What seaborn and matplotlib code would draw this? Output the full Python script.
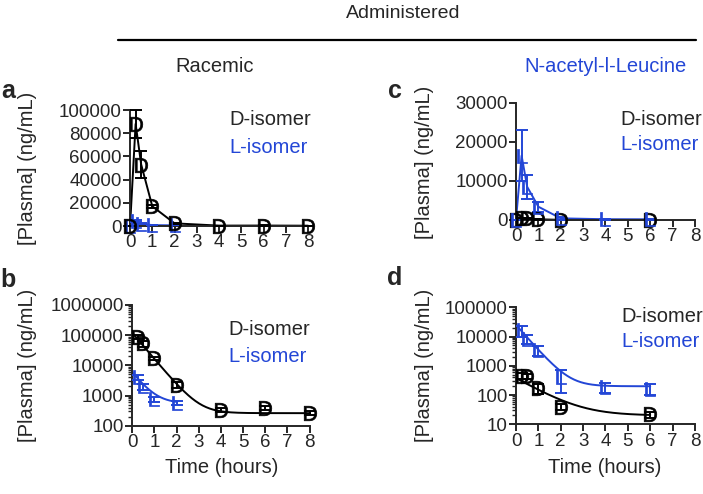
import numpy as np
import matplotlib
matplotlib.use('Agg')
import matplotlib.pyplot as plt
import seaborn as sns
from matplotlib.lines import Line2D
from matplotlib.ticker import FixedLocator, LogLocator, NullFormatter, FuncFormatter

sns.set_style('ticks')
plt.rcParams['font.family'] = ['Liberation Sans', 'DejaVu Sans']
plt.rcParams['mathtext.fontset'] = 'custom'
plt.rcParams['mathtext.sf'] = 'Liberation Sans'
plt.rcParams['mathtext.rm'] = 'Liberation Sans'

BLUE = '#2346d6'

# racemic dose: D- and L-isomer plasma levels (mean, sd)
time_rac_d = [0, 0.25, 0.5, 1, 2, 4, 6, 8]
rac_d_mean = [0, 88000, 53000, 17000, 2300, 340, 400, 270]
rac_d_sd = [0, 12000, 12000, 1500, 500, 60, 60, 40]
time_rac_l = [0, 0.25, 0.5, 1, 2]
rac_l_mean = [0, 4100, 2000, 750, 570]
rac_l_sd = [0, 800, 500, 150, 100]

# N-acetyl-L-leucine dose
time_nal_d = [0, 0.25, 0.5, 1, 2, 6]
nal_d_mean = [0, 450, 440, 170, 40, 22]
nal_d_sd = [0, 100, 80, 60, 10, 5]
time_nal_l = [0, 0.25, 0.5, 1, 2, 4, 6]
nal_l_mean = [0, 16500, 8500, 3400, 420, 190, 165]
nal_l_sd = [0, 6500, 3000, 1300, 300, 70, 65]

# one-phase decay fits shown on the log panels: (y0, k, plateau, t_end)
fit_rac_d = (120000, 2.0, 260, 8)
fit_rac_l = (6000, 2.2, 550, 2)
fit_nal_d = (380, 1.0, 20, 6)
fit_nal_l = (25000, 2.0, 200, 6)

x_ticks = [0, 1, 2, 3, 4, 5, 6, 7, 8]

fig = plt.figure(figsize=(7.03, 4.94), dpi=100)
ax_a = fig.add_axes([0.185, 0.5425, 0.2532, 0.2348])
ax_b = fig.add_axes([0.188, 0.1383, 0.2523, 0.2443])
ax_c = fig.add_axes([0.734, 0.5547, 0.2546, 0.2368])
ax_d = fig.add_axes([0.734, 0.1411, 0.2546, 0.2368])


def points(ax, t, mean, sd, letter, color):
    ax.errorbar(t, mean, yerr=sd, fmt='none', ecolor=color, elinewidth=1.4,
                capsize=4, capthick=1.4, clip_on=False, zorder=3)
    sns.scatterplot(x=t, y=mean, ax=ax, marker=r'$\mathsf{%s}$' % letter, s=110,
                    color=color, edgecolor=color, linewidth=0.5, clip_on=False, zorder=4)


def fit_curve(ax, fit, color):
    y0, k, plateau, t_end = fit
    tt = np.linspace(0, t_end, 200)
    sns.lineplot(x=tt, y=plateau + (y0 - plateau) * np.exp(-k * tt), ax=ax,
                 color=color, lw=1.4, clip_on=False)


# linear panels: points joined by straight lines
sns.lineplot(x=time_rac_l, y=rac_l_mean, ax=ax_a, color=BLUE, lw=1.4, clip_on=False)
sns.lineplot(x=time_rac_d, y=rac_d_mean, ax=ax_a, color='black', lw=1.4, clip_on=False)
points(ax_a, time_rac_l, rac_l_mean, rac_l_sd, 'L', BLUE)
points(ax_a, time_rac_d, rac_d_mean, rac_d_sd, 'D', 'black')

sns.lineplot(x=time_nal_d, y=nal_d_mean, ax=ax_c, color='black', lw=1.4, clip_on=False)
sns.lineplot(x=time_nal_l, y=nal_l_mean, ax=ax_c, color=BLUE, lw=1.4, clip_on=False)
points(ax_c, time_nal_d, nal_d_mean, nal_d_sd, 'D', 'black')
points(ax_c, time_nal_l, nal_l_mean, nal_l_sd, 'L', BLUE)

# log panels: fitted curves
fit_curve(ax_b, fit_rac_d, 'black')
fit_curve(ax_b, fit_rac_l, BLUE)
points(ax_b, time_rac_d[1:], rac_d_mean[1:], rac_d_sd[1:], 'D', 'black')
points(ax_b, time_rac_l[1:], rac_l_mean[1:], rac_l_sd[1:], 'L', BLUE)

fit_curve(ax_d, fit_nal_l, BLUE)
fit_curve(ax_d, fit_nal_d, 'black')
points(ax_d, time_nal_d[1:], nal_d_mean[1:], nal_d_sd[1:], 'D', 'black')
points(ax_d, time_nal_l[1:], nal_l_mean[1:], nal_l_sd[1:], 'L', BLUE)

ax_a.set_ylim(0, 100000)
ax_a.set_yticks([0, 20000, 40000, 60000, 80000, 100000])
ax_c.set_ylim(0, 30000)
ax_c.set_yticks([0, 10000, 20000, 30000])

ax_b.set_yscale('log')
ax_b.set_ylim(100, 1000000)
ax_b.yaxis.set_major_locator(FixedLocator([100, 1000, 10000, 100000, 1000000]))
ax_d.set_yscale('log')
ax_d.set_ylim(10, 100000)
ax_d.yaxis.set_major_locator(FixedLocator([10, 100, 1000, 10000, 100000]))
for ax in (ax_b, ax_d):
    ax.yaxis.set_minor_locator(LogLocator(base=10, subs=np.arange(2, 10), numticks=20))
    ax.yaxis.set_minor_formatter(NullFormatter())
    ax.tick_params(axis='y', which='minor', direction='out', length=3, width=1.0)

for ax in (ax_a, ax_b, ax_c, ax_d):
    ax.set_xlim(0, 8)
    ax.set_xticks(x_ticks)
    ax.yaxis.set_major_formatter(FuncFormatter(lambda v, p: '%d' % v))
    ax.set_xlabel('')
    ax.set_ylabel('')
    for side in ('top', 'right'):
        ax.spines[side].set_visible(False)
    for side in ('left', 'bottom'):
        ax.spines[side].set_linewidth(1.4)
    ax.tick_params(axis='both', which='major', direction='out', length=5, width=1.4,
                   labelsize=13.5, pad=1)
    ax.patch.set_alpha(0)

# legends as coloured text
for ax, x, yd, yl in ((ax_a, 0.556, 0.914, 0.681), (ax_b, 0.545, 0.793, 0.572),
                      (ax_c, 0.581, 0.855, 0.641), (ax_d, 0.59, 0.92, 0.706)):
    ax.text(x, yd, 'D-isomer', transform=ax.transAxes, fontsize=14.5, va='center')
    ax.text(x, yl, 'L-isomer', transform=ax.transAxes, fontsize=14.5, va='center', color=BLUE)

W, H = 703.0, 494.0
fig.text(403 / W, 1 - 13 / H, 'Administered', ha='center', va='center', fontsize=14)
fig.add_artist(Line2D([118 / W, 696 / W], [1 - 40 / H, 1 - 40 / H], color='black', lw=1.6))
fig.text(215 / W, 1 - 66 / H, 'Racemic', ha='center', va='center', fontsize=14.5)
fig.text(605 / W, 1 - 66 / H, 'N-acetyl-l-Leucine', ha='center', va='center', fontsize=14.5, color=BLUE)

for x, y, s in ((8, 91, 'a'), (395, 91, 'c'), (8, 280, 'b'), (395, 278, 'd')):
    fig.text(x / W, 1 - y / H, s, ha='center', va='center', fontsize=18, fontweight='bold')

for x, y in ((28, 168), (28, 365), (425, 162), (425, 365)):
    fig.text(x / W, 1 - y / H, '[Plasma] (ng/mL)', ha='center', va='center',
             rotation=90, fontsize=14.5)

for x in (222, 605):
    fig.text(x / W, 1 - 467 / H, 'Time (hours)', ha='center', va='center', fontsize=14.5)

fig.savefig('out.png', dpi=100)
